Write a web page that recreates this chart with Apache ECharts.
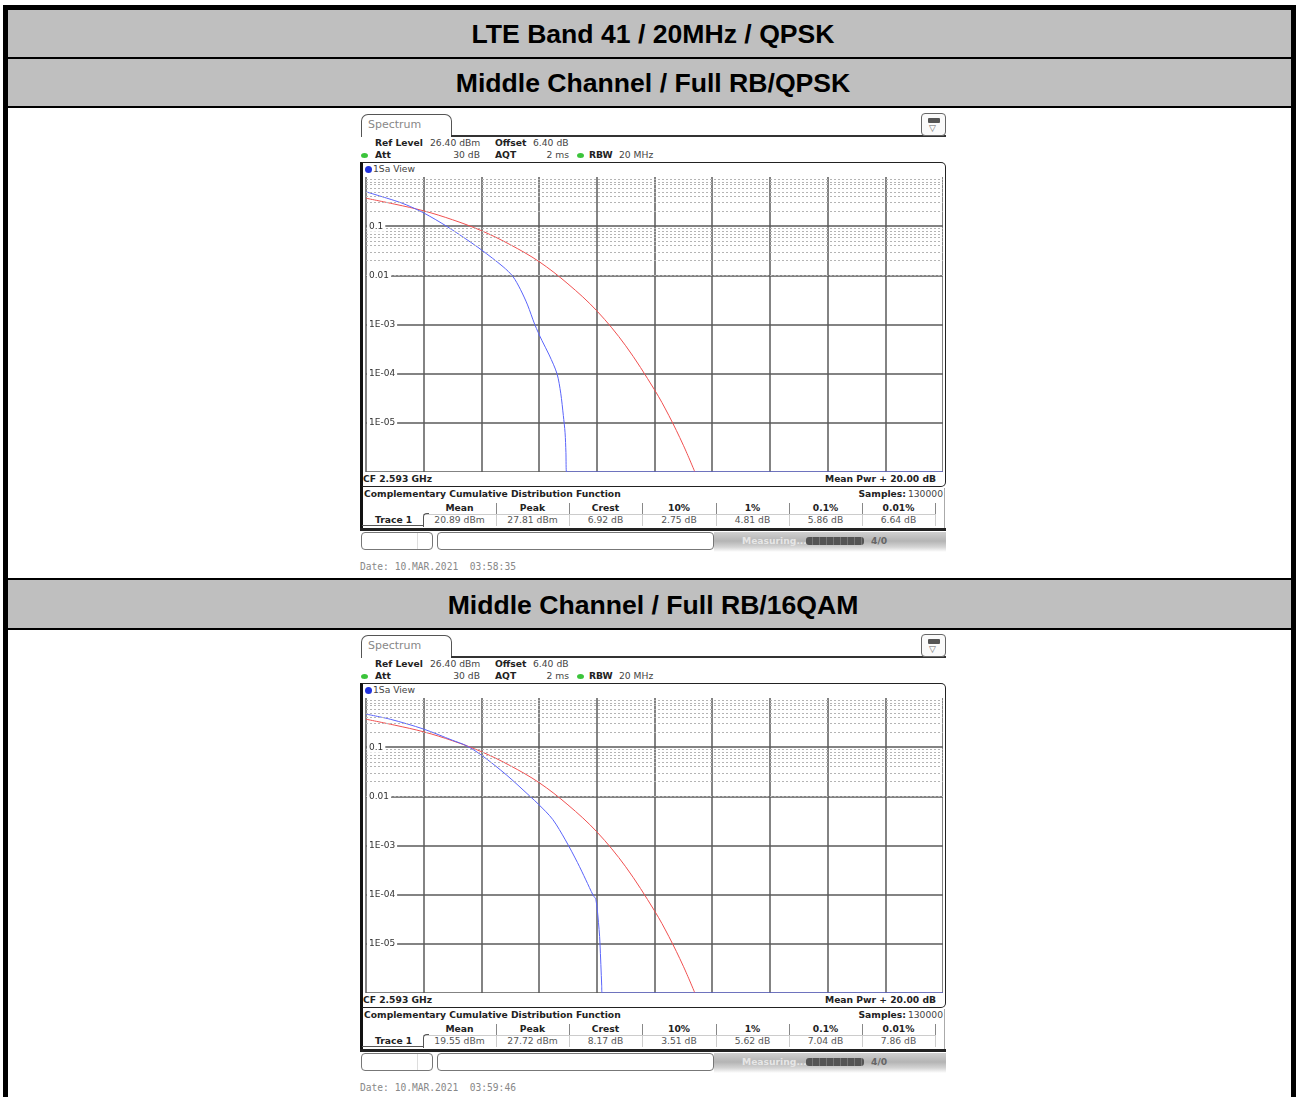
<!DOCTYPE html>
<html>
<head>
<meta charset="utf-8">
<title>LTE Band 41 CCDF</title>
<script src="https://cdn.jsdelivr.net/npm/echarts@6/dist/echarts.min.js"></script>
<style>
  body { margin: 0; width: 1299px; height: 1097px; overflow: hidden; background: #fff; position: relative; }
  .bar { position: absolute; background: #000; }
  .head { position: absolute; left: 8px; width: 1283px; background: #bfbfbf; text-align: center; padding-left: 7px; box-sizing: border-box;
          font: bold 26.6px 'Liberation Sans', Arial, sans-serif; color: #000; }
  .panel { position: absolute; left: 360px; width: 590px; height: 470px; font-family: 'DejaVu Sans', sans-serif; color: #444; }
  .panel div, .panel span { position: absolute; white-space: nowrap; box-sizing: border-box; }
  .t { font-size: 9.2px; line-height: 10px; height: 10px; }
  .b { font-weight: bold; color: #222; }
  .tab { left: 1px; top: 2px; width: 91px; height: 23px; border: 1.5px solid #555; border-bottom: none;
         border-radius: 7px 7px 0 0; font-size: 11px; color: #888; padding-left: 6px; line-height: 20px; }
  .icon { left: 561px; top: 1px; width: 25px; height: 23px; border: 1px solid #666; border-radius: 4px; background: #fafafa; }
  .dot { width: 7px; height: 5px; border-radius: 50%; background: #3bc43b; }
  .plot { left: 4px; top: 65px; width: 579px; height: 295px; }
  .date { font-family: 'DejaVu Sans Mono', monospace; font-size: 9.6px; color: #888; }
</style>
</head>
<body>
<script>
// CCDF, x = dB above mean power, y = probability
// Gaussian reference trace (red), same on both screens
const gaussX = [0, 1, 2, 3, 4, 5, 6, 7, 8, 9, 10, 10.5, 11, 11.4];
const gaussP = [0.37, 0.28, 0.205, 0.135, 0.081, 0.042, 0.019, 0.0067, 0.0019, 0.00037, 0.000047, 0.000014, 0.0000035, 0.000001];

// measured trace, QPSK
const qpskX = [0, 1, 1.41, 2, 2.79, 3.5, 4, 4.75, 5.09, 5.35, 5.6, 5.85, 6.1, 6.35, 6.62, 6.75, 6.84, 6.9, 6.93, 6.95, 20];
const qpskP = [0.5, 0.33, 0.27, 0.186, 0.1, 0.053, 0.033, 0.015, 0.0095, 0.0052, 0.0025, 0.001, 0.00047, 0.00024, 0.0001,
  0.00004, 0.0000141, 0.0000063, 0.0000025, 0.000001, 0.000001];

// measured trace, 16QAM
const qam16X = [0, 0.84, 1.99, 3, 3.48, 4, 4.86, 5.67, 5.99, 6.47, 6.91, 7.33, 7.62, 7.87, 7.97, 8.08, 8.11, 8.17, 8.18, 20];
const qam16P = [0.47, 0.37, 0.234, 0.138, 0.107, 0.069, 0.0275, 0.0102, 0.0068, 0.0034, 0.0013, 0.00045, 0.0002, 0.000098,
  0.000079, 0.0000195, 0.0000102, 0.0000014, 0.000001, 0.000001];

// y tick labels by exponent (-5 .. -1)
const yTickLabels = ['1E-05', '1E-04', '1E-03', '0.01', '0.1'];

// result table
const statHeads = ['Mean', 'Peak', 'Crest', '10%', '1%', '0.1%', '0.01%'];
const qpskStats = ['20.89 dBm', '27.81 dBm', '6.92 dB', '2.75 dB', '4.81 dB', '5.86 dB', '6.64 dB'];
const qam16Stats = ['19.55 dBm', '27.72 dBm', '8.17 dB', '3.51 dB', '5.62 dB', '7.04 dB', '7.86 dB'];

const titles = ['LTE Band 41 / 20MHz / QPSK', 'Middle Channel / Full RB/QPSK', 'Middle Channel / Full RB/16QAM'];

// ---- page frame ----
function box(cls, l, t, w, h, html, extra) {
  const d = document.createElement('div');
  d.className = cls;
  d.style.cssText = `left:${l}px;top:${t}px;width:${w}px;height:${h}px;` + (extra || '');
  if (html) d.innerHTML = html;
  document.body.appendChild(d);
  return d;
}
box('bar', 3, 5, 5, 1092);
box('bar', 1291, 5, 5, 1092);
box('bar', 3, 5, 1293, 5);
box('head', 8, 10, 1283, 47, titles[0], 'line-height:48px');
box('bar', 8, 57, 1283, 2);
box('head', 8, 59, 1283, 47, titles[1], 'line-height:48px');
box('bar', 8, 106, 1283, 2);
box('bar', 8, 578, 1283, 2);
box('head', 8, 580, 1283, 48, titles[2], 'line-height:50px');
box('bar', 8, 628, 1283, 2);

// ---- instrument screen ----
const colEdges = [63, 136, 209, 282, 356, 429, 502, 575];

function txt(x, y, s, bold, right) {
  const pos = right ? `right:${590 - x}px` : `left:${x}px`;
  return `<span class="t${bold ? ' b' : ''}" style="${pos};top:${y}px">${s}</span>`;
}

function panelHtml(stats, date) {
  let h = '';
  h += '<div class="tab">Spectrum</div>';
  h += '<div style="left:91px;top:23px;width:495px;height:2px;background:#333"></div>';
  h += '<div class="icon"><div style="left:6px;top:4px;width:12px;height:5px;background:#555;border-radius:1px"></div>' +
       '<div style="left:7px;top:10px;font-size:9px;line-height:9px;color:#666">&#9661;</div></div>';
  // settings lines
  h += txt(15, 26, 'Ref Level', true) + txt(70, 26, '26.40 dBm') + txt(135, 26, 'Offset', true) + txt(173, 26, '6.40 dB');
  h += '<div class="dot" style="left:1px;top:41px"></div>';
  h += txt(15, 38, 'Att', true) + txt(120, 38, '30 dB', false, true) + txt(135, 38, 'AQT', true) + txt(209, 38, '2 ms', false, true);
  h += '<div class="dot" style="left:217px;top:41px"></div>';
  h += txt(229, 38, 'RBW', true) + txt(259, 38, '20 MHz');
  // diagram frame
  h += '<div style="left:0;top:50px;width:3px;height:369px;background:#111"></div>';
  h += '<div style="left:2px;top:50px;width:584px;height:325px;border:1.5px solid #222;border-left:none;border-radius:0 5px 5px 0"></div>';
  h += '<div style="left:5px;top:54px;width:7px;height:7px;border-radius:50%;background:#2233dd"></div>';
  h += txt(13, 52, '1Sa View');
  h += txt(3, 362, 'CF 2.593 GHz', true) + txt(576, 362, 'Mean Pwr + 20.00 dB', true, true);
  // result table
  h += txt(4, 377, 'Complementary Cumulative Distribution Function', true);
  h += txt(546, 377, 'Samples:', true, true) + txt(583, 377, '130000', false, true);
  h += '<div style="left:584px;top:376px;width:1px;height:41px;background:#aaa"></div>';
  for (let i = 0; i < statHeads.length; i++) {
    const l = colEdges[i], w = colEdges[i + 1] - colEdges[i];
    h += `<div class="t b" style="left:${l}px;top:391px;width:${w}px;text-align:center">${statHeads[i]}</div>`;
    h += `<div class="t" style="left:${l}px;top:403px;width:${w}px;text-align:center;color:#555">${stats[i]}</div>`;
    h += `<div style="left:${colEdges[i + 1]}px;top:391px;width:1px;height:11px;background:#888"></div>`;
    h += `<div style="left:${colEdges[i + 1]}px;top:402px;width:1px;height:12px;background:#ccc"></div>`;
  }
  h += `<div style="left:${colEdges[0]}px;top:402px;width:${colEdges[7] - colEdges[0]}px;height:1px;background:#ccc"></div>`;
  h += `<div style="left:${colEdges[0]}px;top:401px;width:6px;height:14px;border-left:1px solid #555;border-top:1px solid #555;border-radius:4px 0 0 0"></div>`;
  h += txt(15, 403, 'Trace 1', true);
  h += '<div style="left:2px;top:413px;width:62px;height:1px;background:#555"></div>';
  h += '<div style="left:0;top:416px;width:586px;height:3px;background:#222"></div>';
  // status bar
  h += '<div style="left:1px;top:420px;width:72px;height:18px;border:1px solid #777;border-radius:4px"></div>';
  h += '<div style="left:57px;top:421px;width:1px;height:16px;background:#ddd"></div>';
  h += '<div style="left:77px;top:420px;width:277px;height:18px;border:1px solid #777;border-radius:4px"></div>';
  h += '<div style="left:354px;top:420px;width:232px;height:20px;background:linear-gradient(#d0d0d0,#b4b4b4 45%,#d4d4d4 75%,#fff)"></div>';
  h += '<span class="t b" style="left:382px;top:424px;color:#e6e6e6">Measuring...</span>';
  h += '<div style="left:446px;top:425px;width:58px;height:8px;background:repeating-linear-gradient(90deg,#555 0 6px,#777 6px 7px);border-radius:3px"></div>';
  h += '<span class="t b" style="left:511px;top:424px;color:#666">4/0</span>';
  h += `<span class="date" style="left:0;top:449px">${date}</span>`;
  return h;
}

function makeOption(bx, bp) {
  const minorLines = [];
  for (let d = -6; d < 0; d++) {
    for (let k = 2; k <= 9; k++) minorLines.push({ yAxis: k * Math.pow(10, d) });
  }
  const logAxis = { type: 'log', logBase: 10, min: 0.000001, max: 1, axisLine: { show: false }, axisTick: { show: false } };
  return {
    animation: false,
    grid: { left: 0, right: 0, top: 0, bottom: 0 },
    xAxis: {
      type: 'value', min: 0, max: 20, interval: 2,
      axisLine: { show: false }, axisTick: { show: false }, axisLabel: { show: false },
      splitLine: { lineStyle: { color: '#5a5a5a', width: 1.5 } },
    },
    yAxis: [
      Object.assign({}, logAxis, {
        axisLabel: { show: false },
        splitLine: { showMaxLine: false, lineStyle: { color: '#5a5a5a', width: 1.5 } },
      }),
      Object.assign({}, logAxis, {
        position: 'left', z: 10, splitLine: { show: false },
        axisLabel: {
          inside: true, margin: 1, showMinLabel: false, showMaxLabel: false,
          color: '#333', fontFamily: 'DejaVu Sans', fontSize: 9,
          backgroundColor: '#fff', padding: [1, 2, 1, 2],
          formatter: (v) => yTickLabels[Math.round(Math.log10(v)) + 5] || '',
        },
      }),
    ],
    series: [
      {
        // minor log grid
        type: 'line', data: [[0, 0.000001]], showSymbol: false, lineStyle: { opacity: 0 }, z: 1,
        markLine: {
          silent: true, symbol: 'none', label: { show: false }, animation: false,
          lineStyle: { color: '#b4b4b4', type: [2, 2], width: 1 },
          data: minorLines,
        },
      },
      {
        name: 'Gauss', type: 'line', z: 3, showSymbol: false, smooth: 0.35,
        lineStyle: { color: '#f05050', width: 1 },
        data: gaussX.map((x, i) => [x, gaussP[i]]),
      },
      {
        name: 'Trace 1', type: 'line', z: 4, showSymbol: false, smooth: 0.3, clip: false,
        lineStyle: { color: '#5a64fa', width: 1 },
        data: bx.map((x, i) => [x, bp[i]]),
      },
    ],
  };
}

function buildPanel(top, stats, date, bx, bp) {
  const p = document.createElement('div');
  p.className = 'panel';
  p.style.top = top + 'px';
  p.innerHTML = panelHtml(stats, date);
  document.body.appendChild(p);
  const plot = document.createElement('div');
  plot.className = 'plot';
  p.appendChild(plot);
  const chart = echarts.init(plot);
  chart.setOption(makeOption(bx, bp));
}

buildPanel(112, qpskStats, 'Date: 10.MAR.2021&nbsp; 03:58:35', qpskX, qpskP);
buildPanel(633, qam16Stats, 'Date: 10.MAR.2021&nbsp; 03:59:46', qam16X, qam16P);
</script>
</body>
</html>
